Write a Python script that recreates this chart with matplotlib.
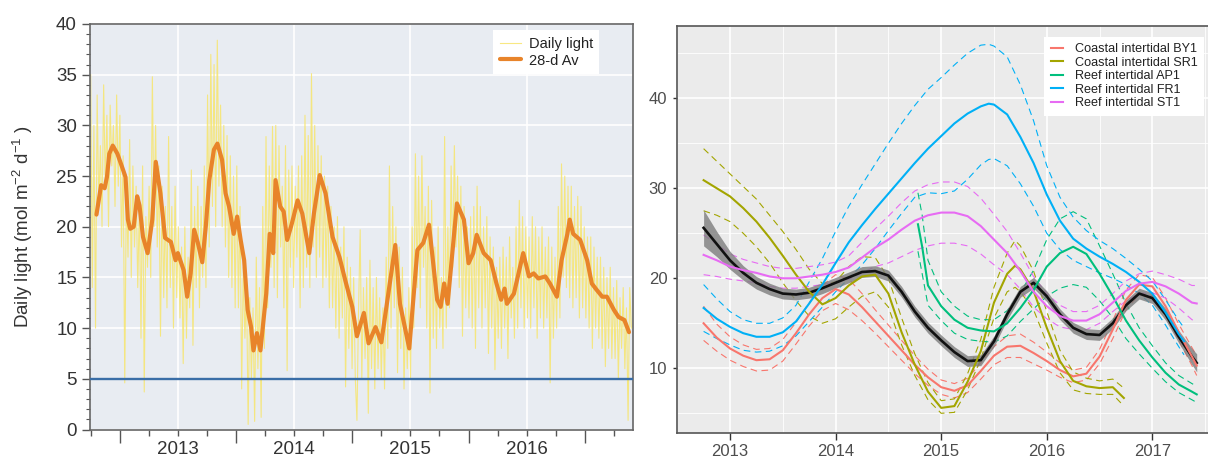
import numpy as np
import matplotlib
matplotlib.use("Agg")
import matplotlib.pyplot as plt
from matplotlib.lines import Line2D

plt.rcParams['font.family'] = ['Liberation Sans', 'DejaVu Sans']
plt.rcParams['mathtext.fontset'] = 'custom'
plt.rcParams['mathtext.rm'] = 'Liberation Sans'
plt.rcParams['mathtext.it'] = 'Liberation Sans:italic'

# ---------------- Left panel data ----------------
avg_year = [2012.80, 2012.84, 2012.87, 2012.89, 2012.91, 2012.94, 2012.98,
            2013.02, 2013.05, 2013.07, 2013.09, 2013.12, 2013.15, 2013.17, 2013.20, 2013.24, 2013.28,
            2013.31, 2013.35, 2013.39, 2013.44, 2013.48, 2013.50, 2013.55, 2013.58, 2013.61, 2013.64,
            2013.67, 2013.71, 2013.74, 2013.77, 2013.81, 2013.84, 2013.88, 2013.91, 2013.94, 2013.98,
            2014.01, 2014.04, 2014.07, 2014.10, 2014.13, 2014.15, 2014.18, 2014.21, 2014.26, 2014.29,
            2014.32, 2014.34, 2014.38, 2014.41, 2014.44, 2014.48, 2014.53, 2014.57, 2014.63, 2014.67,
            2014.72, 2014.77, 2014.83, 2014.89, 2014.94,
            2015.00, 2015.04, 2015.10, 2015.14, 2015.20, 2015.25, 2015.31, 2015.37, 2015.41, 2015.49,
            2015.56, 2015.61, 2015.66, 2015.73, 2015.76, 2015.79, 2015.82, 2015.90, 2015.96,
            2016.00, 2016.04, 2016.07, 2016.13, 2016.19, 2016.24, 2016.28, 2016.31, 2016.33, 2016.39,
            2016.47, 2016.52, 2016.56, 2016.60, 2016.66, 2016.70, 2016.76, 2016.80, 2016.85, 2016.87,
            2016.90, 2016.96,
            2017.02, 2017.06, 2017.10, 2017.15, 2017.19, 2017.25, 2017.29, 2017.34, 2017.38]
avg_light = [21.2, 24.1, 23.8, 24.9, 27.2, 28.0, 27.2,
             25.9, 24.9, 20.7, 19.8, 20.0, 23.0, 22.1, 19.0, 17.4, 20.7,
             26.4, 23.3, 18.9, 18.5, 16.7, 17.4, 15.7, 13.1, 15.4, 19.7,
             18.5, 16.5, 20.0, 24.6, 27.6, 28.2, 26.6, 23.3, 22.0, 19.3,
             21.0, 18.7, 16.7, 11.8, 10.1, 7.8, 9.5, 7.8, 13.4, 19.3,
             17.4, 24.6, 22.0, 21.5, 18.7, 20.3, 22.6, 21.3, 17.4, 21.3,
             25.1, 23.3, 19.0, 17.0, 14.7,
             12.1, 9.2, 11.5, 8.5, 10.1, 8.6, 13.4, 18.2, 12.4, 8.0,
             17.7, 18.4, 20.2, 12.8, 12.1, 14.4, 12.4, 22.3, 20.7,
             16.4, 17.4, 19.2, 17.4, 16.7, 14.4, 12.8, 13.9, 12.4, 13.4,
             17.4, 15.1, 15.4, 14.9, 15.1, 14.4, 13.1, 16.7, 19.3, 20.7,
             19.3, 18.7,
             16.7, 14.4, 13.8, 13.1, 13.1, 11.8, 11.1, 10.8, 9.6]

daily_first, daily_last = 2012.75, 2017.40
daily_light = [35, 14, 30, 10, 33, 22, 28, 20, 34, 24, 31, 20, 32, 26, 30, 22, 33, 24,
               31, 18, 27, 4.6, 24, 17, 28.6, 15, 26, 18, 24, 14, 22, 9, 26, 3.7, 21, 16,
               24, 15, 34.8, 20, 30, 18, 26, 9.2, 24, 13, 22, 12, 28.9, 14, 22, 10, 24, 13,
               20, 11, 18, 6.5, 20, 9, 17, 12, 25.6, 8.3, 22, 14, 24, 12, 22, 15, 26, 14,
               33, 18, 37, 22, 36, 20, 38.4, 24, 32, 20, 30, 18, 29, 15, 27, 14, 25, 12,
               26, 12, 22, 4, 16, 9, 14, 0.5, 13, 5, 12, 0.8, 17, 6, 14, 1.2, 22, 8,
               28.9, 12, 26, 16, 29.9, 14, 30, 13, 28, 18, 24, 12, 28, 5.8, 25.6, 16, 26, 14,
               24, 17, 26, 12, 27, 14, 31, 16, 29, 14, 35.1, 18, 30, 15, 28, 17, 27, 14,
               25, 15, 24, 12, 22, 12, 20, 10, 21, 9, 18, 11, 20, 4.2, 17, 8, 16, 6,
               15, 5, 0.9, 12, 19.7, 5, 14, 7, 15, 1.6, 16.7, 6, 14, 4, 15, 6, 13, 5,
               12, 4, 17, 8, 26, 10, 22, 12, 20, 5.6, 18, 8, 16, 4, 12, 6, 14, 5,
               20, 10, 27.2, 14, 25, 12, 27, 16, 22, 10, 24, 3.6, 22.6, 9, 18, 8, 20, 10,
               15, 8, 28.9, 10, 20, 12, 26, 16, 28, 18, 25, 14, 24, 9.2, 22, 12, 20, 11,
               21, 10, 22, 8, 24, 12, 22, 10, 20, 12, 21, 7.5, 19, 10, 18, 5.9, 16, 9,
               17, 8, 18, 10, 17, 7, 19, 11, 16, 9, 20, 10, 22.6, 12, 21, 10, 20, 11,
               19, 10, 21, 12, 20, 9, 19, 11, 20, 10, 18, 11, 19, 4.6, 18, 9, 17, 10,
               22, 11, 26.2, 15, 25, 14, 24, 13, 24, 12, 22, 13, 23, 11, 22, 12, 20, 11,
               19, 10, 19, 8, 18, 10, 17, 9, 17, 8, 16, 6.2, 15, 8, 16, 7, 14, 7,
               14.7, 5, 13, 8, 14, 6, 12, 0.9, 14, 10]
threshold = 5
left_year_labels = ['2013', '2014', '2015', '2016']
left_label_pos = [2013.5, 2014.5, 2015.5, 2016.5]
left_year_bounds = [2013, 2014, 2015, 2016, 2017]

# ---------------- Right panel data ----------------
q_years = [2012.75, 2012.875, 2013.0, 2013.125, 2013.25, 2013.375, 2013.5, 2013.625, 2013.75, 2013.875,
           2014.0, 2014.125, 2014.25, 2014.375, 2014.5, 2014.625, 2014.75, 2014.875,
           2015.0, 2015.125, 2015.25, 2015.375, 2015.5, 2015.625, 2015.75, 2015.875,
           2016.0, 2016.125, 2016.25, 2016.375, 2016.5, 2016.625, 2016.75, 2016.875,
           2017.0, 2017.125, 2017.25, 2017.375, 2017.42]

all_mid = [25.6, 23.8, 22.0, 20.6, 19.5, 18.8, 18.3, 18.2, 18.4, 18.9,
           19.5, 20.1, 20.7, 20.8, 20.3, 18.5, 16.3, 14.5,
           13.1, 11.8, 10.8, 10.9, 13.0, 16.0, 18.5, 19.5,
           18.0, 16.0, 14.5, 13.8, 13.7, 15.0, 17.0, 18.3,
           17.8, 16.0, 13.5, 11.3, 10.6]
all_hw = [2.0, 1.4, 1.0, 0.8, 0.7, 0.65, 0.6, 0.6, 0.6, 0.6,
          0.6, 0.6, 0.6, 0.6, 0.6, 0.6, 0.6, 0.6,
          0.6, 0.6, 0.6, 0.6, 0.6, 0.6, 0.6, 0.6,
          0.6, 0.6, 0.6, 0.6, 0.6, 0.6, 0.6, 0.6,
          0.6, 0.65, 0.7, 0.9, 1.0]

by1_mid = [15.0, 13.4, 12.2, 11.4, 10.9, 11.0, 12.0, 13.9, 16.0, 17.8,
           18.8, 18.2, 16.8, 15.2, 13.6, 12.0, 10.4, 9.0,
           7.9, 7.5, 8.1, 9.7, 11.4, 12.4, 12.5, 11.7,
           10.8, 9.8, 9.1, 9.4, 11.3, 14.3, 17.6, 19.3,
           19.1, 16.9, 14.0, 11.3, 10.3]
by1_hw = [1.9, 1.5, 1.3, 1.2, 1.2, 1.2, 1.2, 1.2, 1.3, 1.4,
          1.6, 1.7, 1.5, 1.3, 1.2, 1.1, 1.0, 0.9,
          0.8, 0.8, 0.8, 0.9, 1.0, 1.2, 1.3, 1.2,
          1.0, 0.8, 0.7, 0.7, 0.8, 1.0, 1.1, 1.1,
          1.0, 0.9, 0.9, 1.0, 1.1]

st1_mid = [22.6, 22.0, 21.3, 20.9, 20.6, 20.2, 20.0, 20.0, 20.2, 20.4,
           20.7, 21.2, 22.3, 23.4, 24.3, 25.4, 26.4, 27.0,
           27.3, 27.3, 26.9, 25.8, 24.3, 22.8, 20.8, 18.5,
           16.9, 15.8, 15.3, 15.3, 16.0, 17.3, 18.6, 19.4,
           19.6, 19.1, 18.3, 17.3, 17.2]
st1_hw = [2.2, 1.8, 1.4, 1.2, 1.1, 1.1, 1.1, 1.1, 1.1, 1.1,
          1.1, 1.3, 1.7, 2.1, 2.6, 3.0, 3.3, 3.4,
          3.4, 3.4, 3.3, 3.1, 2.8, 2.4, 2.0, 1.7,
          1.4, 1.2, 1.0, 1.0, 1.0, 1.0, 1.1, 1.1,
          1.2, 1.3, 1.6, 1.9, 2.0]

fr1_years = [2012.75, 2012.875, 2013.0, 2013.125, 2013.25, 2013.375, 2013.5, 2013.625, 2013.75, 2013.875,
             2014.0, 2014.125, 2014.25, 2014.375, 2014.5, 2014.625, 2014.75, 2014.875,
             2015.0, 2015.125, 2015.25, 2015.375, 2015.45, 2015.5, 2015.625, 2015.75, 2015.875,
             2016.0, 2016.125, 2016.25, 2016.375, 2016.5, 2016.625, 2016.75, 2016.875,
             2017.0, 2017.125, 2017.25, 2017.3]
fr1_mid = [16.7, 15.5, 14.6, 13.9, 13.5, 13.5, 14.0, 15.2, 17.2, 19.3,
           21.7, 24.0, 25.9, 27.7, 29.4, 31.1, 32.8, 34.4,
           35.8, 37.2, 38.3, 39.1, 39.4, 39.3, 38.2, 35.7, 32.8,
           29.3, 26.4, 24.4, 23.3, 22.4, 21.6, 20.7, 19.6,
           18.3, 16.2, 13.8, 13.0]
fr1_lo = [14.1, 13.3, 12.6, 12.0, 11.8, 11.9, 12.5, 13.6, 15.2, 16.8,
          18.5, 20.0, 21.5, 23.3, 25.3, 27.2, 29.0, 29.5,
          29.4, 29.7, 31.0, 32.6, 33.2, 33.3, 32.5, 30.5, 28.0,
          25.0, 23.2, 22.0, 21.3, 20.6, 20.0, 19.3, 18.3,
          17.0, 14.8, 12.4, 11.5]
fr1_hi = [19.3, 17.7, 16.3, 15.4, 15.0, 15.0, 15.6, 17.0, 19.6, 22.2,
          25.2, 28.0, 30.4, 32.7, 35.0, 37.2, 39.2, 41.0,
          42.3, 43.7, 45.0, 45.9, 46.0, 45.8, 44.6, 41.5, 37.5,
          32.5, 29.0, 26.8, 25.3, 24.2, 23.3, 22.2, 21.0,
          19.7, 17.6, 15.3, 14.5]

sr1_years = [2012.75, 2012.875, 2013.0, 2013.125, 2013.25, 2013.375, 2013.5, 2013.625, 2013.75, 2013.875,
             2014.0, 2014.125, 2014.25, 2014.375, 2014.5, 2014.625, 2014.75, 2014.875,
             2015.0, 2015.125, 2015.25, 2015.375, 2015.5, 2015.625, 2015.70, 2015.75, 2015.875,
             2016.0, 2016.125, 2016.25, 2016.375, 2016.5, 2016.625, 2016.73]
sr1_mid = [30.9, 30.0, 29.1, 27.8, 26.3, 24.5, 22.5, 20.4, 18.5, 17.1,
           17.8, 19.2, 20.2, 20.4, 18.3, 14.0, 10.4, 7.4,
           5.6, 5.8, 8.5, 11.9, 17.3, 20.5, 21.4, 21.0, 18.6,
           14.5, 10.8, 8.6, 8.0, 7.8, 7.9, 6.7]
sr1_lo = [27.5, 27.0, 26.3, 25.0, 23.5, 21.7, 19.5, 17.5, 15.8, 15.0,
          15.5, 16.8, 18.0, 18.5, 16.8, 12.6, 9.2, 6.5,
          5.0, 5.1, 7.6, 11.0, 15.6, 18.5, 19.0, 18.5, 16.5,
          12.8, 9.5, 7.6, 7.2, 7.1, 7.1, 5.8]
sr1_hi = [34.4, 33.0, 31.6, 30.2, 28.8, 27.0, 25.2, 23.2, 21.0, 19.4,
          19.6, 21.3, 22.4, 22.3, 20.0, 15.6, 11.6, 8.4,
          6.4, 6.6, 9.4, 13.2, 19.0, 22.8, 24.2, 23.6, 20.8,
          16.3, 12.0, 9.6, 8.9, 8.6, 8.8, 7.8]

ap1_years = [2014.78, 2014.82, 2014.875, 2015.0, 2015.125, 2015.25, 2015.375, 2015.5, 2015.625,
             2015.75, 2015.875, 2016.0, 2016.125, 2016.25, 2016.375, 2016.5, 2016.625, 2016.75,
             2016.875, 2017.0, 2017.125, 2017.25, 2017.375, 2017.42]
ap1_mid = [26.0, 23.5, 19.2, 16.9, 15.4, 14.5, 14.2, 14.1, 15.0,
           16.7, 18.7, 21.3, 22.8, 23.5, 22.7, 20.5, 18.0, 15.3,
           13.1, 11.2, 9.5, 8.2, 7.4, 7.1]
ap1_lo = [23.0, 20.5, 17.0, 15.3, 13.9, 13.2, 13.0, 12.9, 13.6,
          15.2, 16.6, 18.0, 18.9, 19.3, 19.0, 17.5, 15.6, 13.3,
          11.6, 10.0, 8.5, 7.3, 6.5, 6.2]
ap1_hi = [29.5, 27.0, 22.0, 18.5, 16.9, 15.8, 15.4, 15.4, 16.4,
          18.4, 20.9, 24.3, 26.6, 27.4, 26.6, 23.6, 20.5, 17.2,
          14.5, 12.5, 10.6, 9.2, 8.3, 8.0]

site_names = ['Coastal intertidal BY1', 'Coastal intertidal SR1', 'Reef intertidal AP1',
              'Reef intertidal FR1', 'Reef intertidal ST1']
site_colors = ['#F8766D', '#A3A500', '#00BF7D', '#00B0F6', '#E76BF3']
right_years = [2013, 2014, 2015, 2016, 2017]

# ---------------- Figure ----------------
W, H = 1208, 462
fig = plt.figure(figsize=(W / 100, H / 100), dpi=100)

# ===== Left panel =====
axL = fig.add_axes([89.5 / W, 32.5 / H, 543 / W, 405.5 / H])
axL.set_facecolor('#e8ecf2')
daily_x = np.linspace(daily_first, daily_last, len(daily_light))
axL.plot(daily_x, daily_light, color='#f7e56c', lw=0.8, alpha=0.85, label='Daily light', zorder=2)
axL.plot(avg_year, avg_light, color='#e8842a', lw=3.0, label='28-d Av', zorder=3,
         solid_joinstyle='round', solid_capstyle='round')
axL.axhline(threshold, color='#3a6ea7', lw=1.7, zorder=4)
axL.set_xlim(2012.74, 2017.41)
axL.set_ylim(0, 40)
axL.set_yticks(range(0, 41, 5))
axL.set_yticks(range(0, 41), minor=True)
axL.set_xticks(left_label_pos)
axL.set_xticklabels(left_year_labels)
axL.set_xticks([y + d for y in [2012, 2013, 2014, 2015, 2016, 2017] for d in (0.25, 0.75)
                if 2012.74 < y + d < 2017.41], minor=True)
axL.grid(True, which='major', color='white', lw=1.2, zorder=0)
axL.set_axisbelow(True)
axL.tick_params(axis='y', which='major', length=6, width=1, color='#555', labelsize=13.5,
                labelcolor='#333', pad=3)
axL.tick_params(axis='y', which='minor', length=3, width=0.8, color='#555')
axL.tick_params(axis='x', which='both', length=4, width=1, color='#555', labelsize=13.5,
                labelcolor='#333', pad=4)
sec = axL.secondary_xaxis('bottom')
sec.set_xticks(left_year_bounds)
sec.set_xticklabels([''] * len(left_year_bounds))
sec.tick_params(length=9, width=1, color='#555')
sec.spines['bottom'].set_visible(False)
for s in axL.spines.values():
    s.set_color('#666')
    s.set_linewidth(1.2)
axL.set_ylabel('Daily light (mol m$^{-2}$ d$^{-1}$ )', fontsize=13.5, color='#333')
axL.yaxis.set_label_coords(-0.1, 0.5)
legL = axL.legend(loc='upper left', bbox_to_anchor=(0.743, 0.985), borderaxespad=0,
                  fontsize=10.5, frameon=True, fancybox=False, framealpha=1,
                  handlelength=1.5, labelspacing=0.2, borderpad=0.45, handletextpad=0.5)
legL.get_frame().set_facecolor('white')
legL.get_frame().set_edgecolor('none')
for t in legL.get_texts():
    t.set_color('#222')

# ===== Right panel =====
axR = fig.add_axes([677 / W, 29 / H, 544 / W, 407 / H])
axR.set_facecolor('#ebebeb')
axR.set_xlim(2012.498, 2017.65)
axR.set_ylim(2.81, 48.03)
axR.set_xticks(right_years)
axR.set_xticks([y + 0.5 for y in [2012] + right_years], minor=True)
axR.set_yticks([10, 20, 30, 40])
axR.set_yticks([5, 15, 25, 35, 45], minor=True)
axR.grid(True, which='major', color='white', lw=1.2)
axR.grid(True, which='minor', color='white', lw=0.6)
axR.set_axisbelow(True)
axR.tick_params(which='major', width=1, color='#333', labelsize=12, labelcolor='#4d4d4d')
axR.tick_params(axis='y', which='major', length=3, pad=4)
axR.tick_params(axis='x', which='major', length=5, pad=3)
axR.tick_params(which='minor', length=0)
for s in axR.spines.values():
    s.set_color('#555')
    s.set_linewidth(1.2)

dash = (6, 4)
series = [
    (q_years, by1_mid, [m - h for m, h in zip(by1_mid, by1_hw)], [m + h for m, h in zip(by1_mid, by1_hw)]),
    (sr1_years, sr1_mid, sr1_lo, sr1_hi),
    (ap1_years, ap1_mid, ap1_lo, ap1_hi),
    (fr1_years, fr1_mid, fr1_lo, fr1_hi),
    (q_years, st1_mid, [m - h for m, h in zip(st1_mid, st1_hw)], [m + h for m, h in zip(st1_mid, st1_hw)]),
]
for (xs, mid, lo, hi), col in zip(series, site_colors):
    axR.plot(xs, lo, color=col, lw=0.8, dashes=dash, zorder=2)
    axR.plot(xs, hi, color=col, lw=0.8, dashes=dash, zorder=2)

all_lo = [m - h for m, h in zip(all_mid, all_hw)]
all_hi = [m + h for m, h in zip(all_mid, all_hw)]
axR.fill_between(q_years, all_lo, all_hi, color='#7d7d7d', alpha=0.8, lw=0, zorder=3)
axR.plot(q_years, all_mid, color='#111111', lw=1.9, zorder=4, solid_joinstyle='round')

for (xs, mid, lo, hi), col in zip(series, site_colors):
    axR.plot(xs, mid, color=col, lw=1.5, zorder=5, solid_joinstyle='round')

handles = [Line2D([], [], color=c, lw=1.5) for c in site_colors]
legR = axR.legend(handles, site_names, loc='upper left', bbox_to_anchor=(0.675, 0.973),
                  borderaxespad=0, fontsize=9.1, frameon=True, fancybox=False, framealpha=1,
                  handlelength=1.0, labelspacing=0.12, borderpad=0.5, handletextpad=0.9)
legR.get_frame().set_facecolor('white')
legR.get_frame().set_edgecolor('none')
for t in legR.get_texts():
    t.set_color('#222')

fig.savefig('out.png', dpi=100)
